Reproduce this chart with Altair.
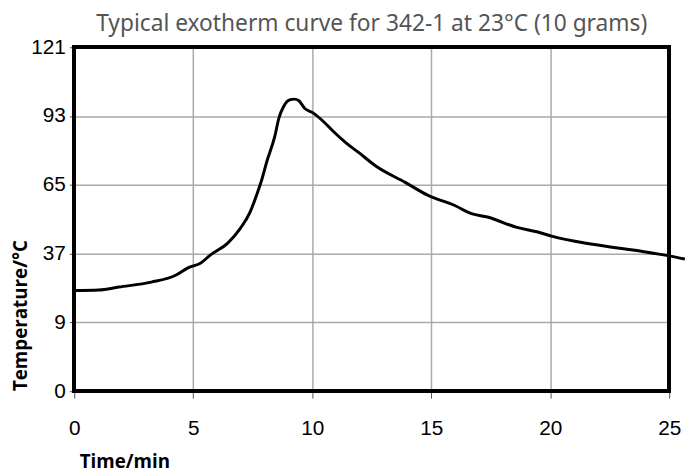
import altair as alt
import pandas as pd

time_min = [0.0, 1.04, 1.87, 3.24, 4.24, 4.78, 5.32, 5.73, 6.44, 6.98, 7.39, 7.68, 7.89, 8.10,
            8.43, 8.60, 8.80, 9.05, 9.25, 9.43, 9.68, 10.05, 10.47, 10.88, 11.42, 11.96, 12.67,
            13.91, 14.87, 15.99, 16.69, 17.36, 18.60, 19.44, 20.14, 21.51, 22.92, 23.88, 25.0, 25.66]
temp_c = [22.0, 22.2, 23.4, 25.4, 28.1, 31.2, 33.2, 36.5, 41.2, 47.3, 53.9, 61.3, 67.4, 74.7,
          84.8, 92.2, 96.9, 99.6, 99.9, 99.3, 96.2, 94.2, 90.8, 86.8, 82.1, 78.1, 72.7,
          66.0, 60.7, 56.6, 53.3, 51.9, 47.7, 45.9, 43.9, 41.2, 39.2, 37.9, 36.1, 34.8]

y_ticks = [-19, 9, 37, 65, 93, 121]
x_ticks = [0, 5, 10, 15, 20, 25]

df = pd.DataFrame({"t": time_min, "T": temp_c})

label_font = "Liberation Sans"

line = alt.Chart(df).mark_line(color="black", strokeWidth=3, clip=False, interpolate="monotone").encode(
    x=alt.X("t:Q", scale=alt.Scale(domain=[0, 25], nice=False),
            axis=alt.Axis(values=x_ticks, title="Time/min", grid=True, gridColor="#aaaaaa",
                          gridWidth=1.5, domain=False, tickColor="#555555", tickSize=7,
                          labelPadding=20, labelFlush=False, labelFont=label_font, labelFontSize=21,
                          labelColor="black", titleFont="Open Sans", titleFontSize=19,
                          titleFontWeight="bold", titleColor="black", titleX=5, titleY=71,
                          titleAlign="left", titleBaseline="middle")),
    y=alt.Y("T:Q", scale=alt.Scale(domain=[-19, 121], nice=False, zero=False),
            axis=alt.Axis(values=y_ticks, labelExpr="datum.value == -19 ? '0' : datum.label",
                          title="Temperature/°C", grid=True, gridColor="#aaaaaa", gridWidth=1.5,
                          domain=False, tickColor="#555555", tickSize=5, labelPadding=4,
                          labelFont=label_font, labelFontSize=21, labelColor="black",
                          titleFont="Open Sans", titleFontSize=19, titleFontWeight="bold",
                          titleColor="black", titleAngle=270, titleX=-54, titleY=271,
                          titleAlign="center", titleBaseline="middle")),
)

frame = alt.Chart(df).mark_rect(fill=None, fillOpacity=0, stroke="black", strokeWidth=3).encode(
    x=alt.value(0), x2=alt.value(602), y=alt.value(0), y2=alt.value(348)
)

chart = alt.layer(line, frame).properties(
    width=602, height=348,
    title=alt.TitleParams("Typical exotherm curve for 342-1 at 23°C (10 grams)",
                          font="Noto Sans", fontSize=23, fontWeight="normal", color="#555555",
                          anchor="middle", offset=0),
    padding={"left": 67, "top": 37, "right": 16, "bottom": 79},
    autosize=alt.AutoSizeParams(type="none"),
).configure(background="white", view=alt.ViewConfig(stroke=None))

chart.save("out.html", embed_options={"renderer": "svg", "actions": False})
